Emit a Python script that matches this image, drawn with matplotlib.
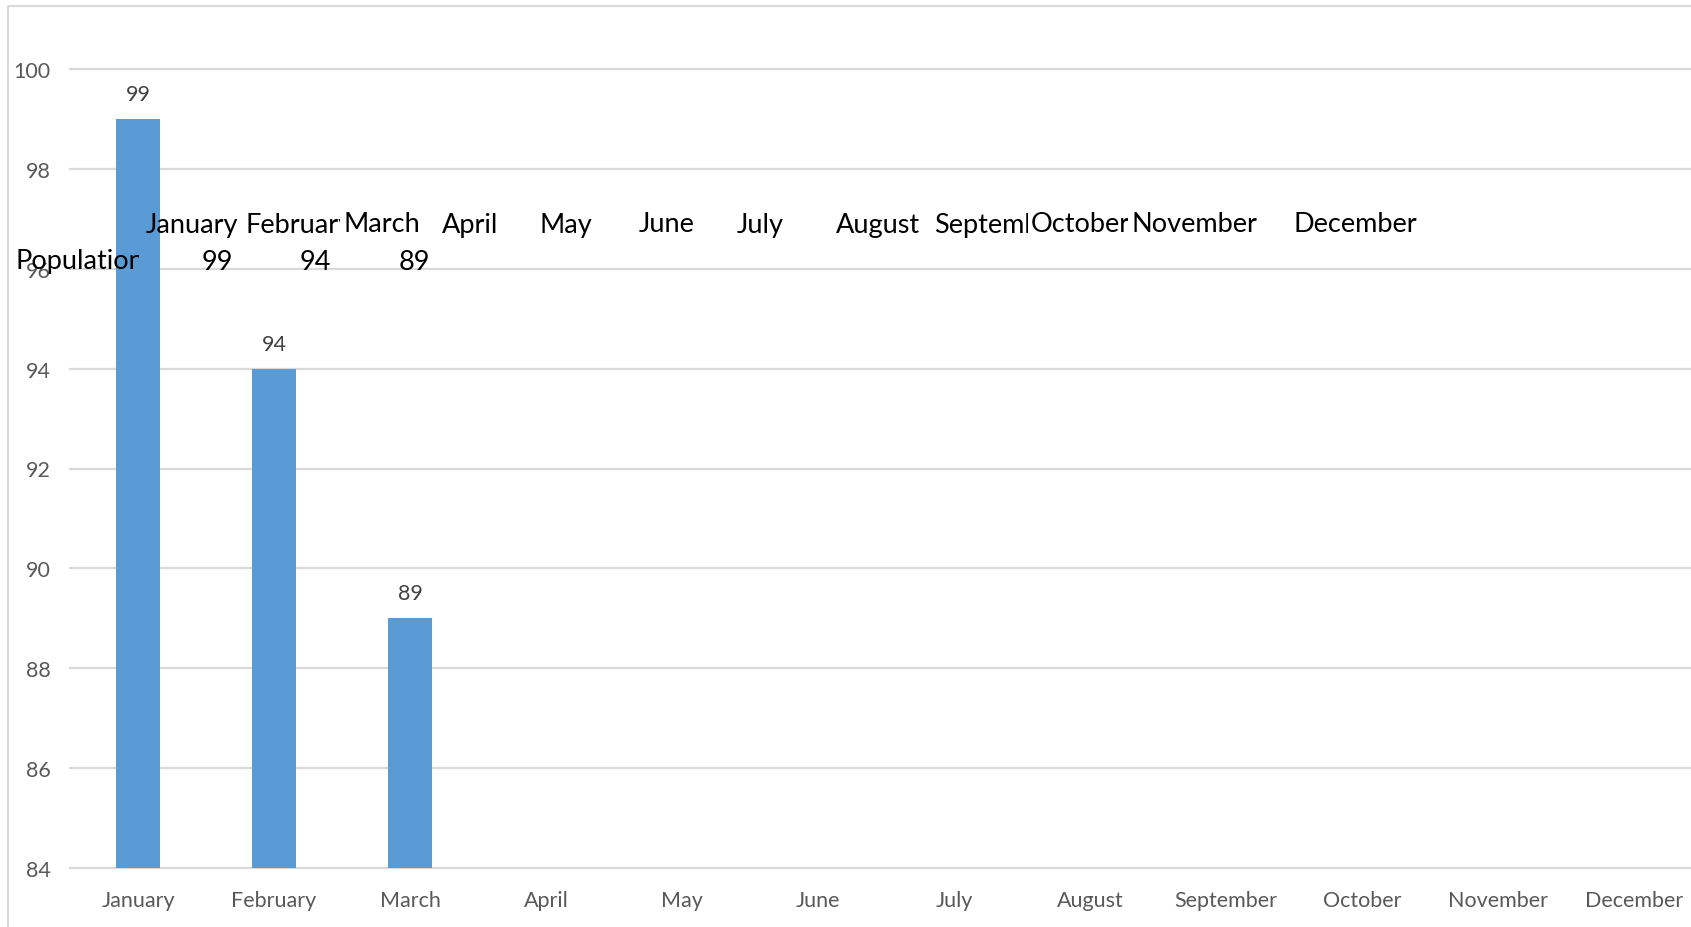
import numpy as np
import matplotlib
matplotlib.use('Agg')
import matplotlib.pyplot as plt
from matplotlib.transforms import Bbox
from matplotlib.lines import Line2D

plt.rc('font', family='Lato')

months = ['January', 'February', 'March', 'April', 'May', 'June', 'July',
          'August', 'September', 'October', 'November', 'December']
population = [99, 94, 89]
yticks = [84, 86, 88, 90, 92, 94, 96, 98, 100]

# spreadsheet cells pasted on top of the chart
row_label = 'Population'
row_values = population

W, H, DPI = 1691, 928, 100
fig = plt.figure(figsize=(W / DPI, H / DPI), dpi=DPI)
fig.patch.set_facecolor('white')

# plot area in pixels: x 70..1702 (runs off the right edge), y 70..869
ax = fig.add_axes([70. / W, 1 - 869. / H, 1632. / W, 799. / H])
x = np.arange(len(months))
ax.bar(x[:len(population)], population, width=0.32, color='#5b9bd5', zorder=2)
ax.set_xlim(-0.5, len(months) - 0.5)
ax.set_ylim(84, 100)
ax.set_yticks(yticks)
ax.set_xticks(x)
ax.set_xticklabels(months)
ax.grid(axis='y', color='#d9d9d9', lw=1.6, zorder=0)
ax.set_axisbelow(True)
for gl in ax.get_ygridlines():
    gl.set_clip_on(False)
for s in ax.spines.values():
    s.set_visible(False)
ax.tick_params(axis='both', length=0, colors='#595959', labelsize=15.5)
ax.tick_params(axis='y', pad=14)
ax.tick_params(axis='x', pad=15.5)

for xi, v in zip(x, population):
    ax.annotate(str(v), (xi, v), xytext=(0, 18), textcoords='offset points',
                ha='center', va='center', color='#404040', fontsize=15.5)

# chart border (only top and left visible)
fig.add_artist(Line2D([8. / W, 8. / W, 1.0], [0.0, 1 - 7. / H, 1 - 7. / H],
                      transform=fig.transFigure, color='#d9d9d9', lw=1.5))

# overlaid cells: left edges in pixels, clipped at the next cell
cell_left = [12, 139, 242, 340, 439, 537, 636, 734, 833, 931, 1028, 1128, 1291]
cell_right = cell_left[1:] + [1500]
row1_y, row2_y = 225, 262
fs_cell = 19.5

def clipped_text(s, px, py, x0, x1, ha='left'):
    t = fig.text(px / W, 1 - py / H, s, ha=ha, va='center', fontsize=fs_cell,
                 color='black', zorder=10)
    t.set_clip_box(Bbox.from_extents(x0, 0, x1, H))
    t.set_clip_on(True)
    return t

for i, m in enumerate(months):
    c = i + 1
    pad = 7 if c == 1 else 3
    clipped_text(m, cell_left[c] + pad, row1_y, cell_left[c], cell_right[c])

clipped_text(row_label, cell_left[0] + 3, row2_y, cell_left[0], cell_right[0])
for i, v in enumerate(row_values):
    c = i + 1
    clipped_text(str(v), cell_right[c] - 9, row2_y, cell_left[c], cell_right[c], ha='right')

fig.savefig('out.png', dpi=DPI)
